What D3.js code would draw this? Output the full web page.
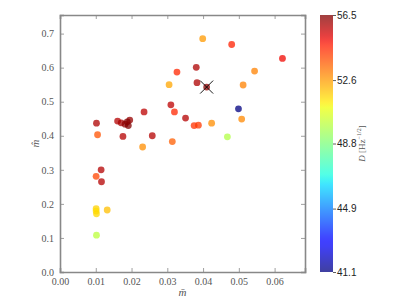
<!DOCTYPE html>
<html>
<head>
<meta charset="utf-8">
<script src="https://cdn.jsdelivr.net/npm/d3@7"></script>
<style>
  body { margin: 0; background: #fff; }
  svg { display: block; }
</style>
</head>
<body>
<div id="chart"></div>
<script>
// m-bar (x), m-hat (y), D in Hz^-1/2 (colour)
const mBar = [0.0102, 0.0105, 0.0161, 0.0171, 0.0182, 0.0191, 0.0195, 0.0188, 0.0176, 0.0235,
              0.0258, 0.0231, 0.0305, 0.0327, 0.0310, 0.0320, 0.0351, 0.0375, 0.0387, 0.0314,
              0.0381, 0.0383, 0.0399, 0.0480, 0.0622, 0.0544, 0.0512, 0.0410, 0.0499, 0.0508,
              0.0424, 0.0468, 0.0115, 0.0101, 0.0116, 0.0101, 0.0101, 0.0102, 0.0132, 0.0102];
const mHat = [0.437, 0.403, 0.443, 0.438, 0.434, 0.430, 0.446, 0.441, 0.398, 0.470,
              0.400, 0.367, 0.550, 0.587, 0.491, 0.470, 0.452, 0.430, 0.431, 0.383,
              0.601, 0.556, 0.685, 0.668, 0.627, 0.590, 0.549, 0.543, 0.479, 0.449,
              0.437, 0.397, 0.300, 0.281, 0.265, 0.186, 0.179, 0.171, 0.182, 0.108];
const dVal = [55.9, 53.8, 55.8, 56.0, 56.3, 56.5, 56.2, 56.4, 55.8, 55.7,
              55.8, 52.8, 52.4, 54.5, 55.7, 54.5, 55.8, 54.3, 54.2, 53.6,
              55.9, 55.9, 52.6, 54.6, 55.0, 53.0, 53.0, 56.3, 41.1, 52.9,
              52.8, 49.8, 55.8, 54.0, 55.8, 51.7, 51.5, 51.6, 52.0, 50.0];
const marked = [0.0410, 0.543];

const xTicks = [0, 0.01, 0.02, 0.03, 0.04, 0.05, 0.06];
const yTicks = [0, 0.1, 0.2, 0.3, 0.4, 0.5, 0.6, 0.7];
const cTicks = [41.1, 44.9, 48.8, 52.6, 56.5];

const W = 407, H = 303;
const plot = { left: 60, right: 305, top: 15, bottom: 272 };
const bar = { left: 320, right: 333 };

// matplotlib "jet"
function jet(t){
  const seg = (pts) => {
    for (let i = 1; i < pts.length; i++){
      if (t <= pts[i][0]){
        const [x0, y0] = pts[i-1], [x1, y1] = pts[i];
        return y0 + (y1 - y0) * (t - x0) / (x1 - x0);
      }
    }
    return pts[pts.length-1][1];
  };
  const r = seg([[0,0],[0.35,0],[0.66,1],[0.89,1],[1,0.5]]);
  const g = seg([[0,0],[0.125,0],[0.375,1],[0.64,1],[0.91,0],[1,0]]);
  const b = seg([[0,0.5],[0.11,1],[0.34,1],[0.65,0],[1,0]]);
  return d3.rgb(r*255, g*255, b*255).formatHex();
}

const x = d3.scaleLinear().domain([0, 0.0685]).range([plot.left, plot.right]);
const y = d3.scaleLinear().domain([0, 0.7546]).range([plot.bottom, plot.top]);
const c = d3.scaleLinear().domain([41.1, 56.5]).range([0, 1]).clamp(true);
const cy = d3.scaleLinear().domain([41.1, 56.5]).range([plot.bottom, plot.top]);

const svg = d3.select("#chart").append("svg").attr("width", W).attr("height", H);
const serif = "'Liberation Serif', 'DejaVu Serif', serif";

// points
const pts = mBar.map((m, i) => ({ x: m, y: mHat[i], d: dVal[i] }));
svg.append("g").selectAll("circle")
  .data(pts)
  .enter()
  .append("circle")
    .attr("cx", d => x(d.x))
    .attr("cy", d => y(d.y))
    .attr("r", 3.4)
    .attr("fill", d => jet(c(d.d)))
    .attr("fill-opacity", 0.75);

// X marker
const mx = x(marked[0]), my = y(marked[1]), s = 6.5;
svg.append("path")
  .attr("d", `M${mx-s},${my-s}L${mx+s},${my+s}M${mx-s},${my+s}L${mx+s},${my-s}`)
  .attr("stroke", "#000").attr("stroke-width", 0.9).attr("fill", "none");

// axes (ticks inward on all four sides)
const spine = "#888";
const axB = svg.append("g").attr("transform", `translate(0,${plot.bottom})`)
  .call(d3.axisBottom(x).tickValues(xTicks).tickSize(-4).tickPadding(6).tickFormat(d3.format(".2f")));
const axT = svg.append("g").attr("transform", `translate(0,${plot.top})`)
  .call(d3.axisTop(x).tickValues(xTicks).tickSize(-4).tickFormat(""));
const axL = svg.append("g").attr("transform", `translate(${plot.left},0)`)
  .call(d3.axisLeft(y).tickValues(yTicks).tickSize(-4).tickPadding(6).tickFormat(d3.format(".1f")));
const axR = svg.append("g").attr("transform", `translate(${plot.right},0)`)
  .call(d3.axisRight(y).tickValues(yTicks).tickSize(-4).tickFormat(""));

[axB, axT, axL, axR].forEach(a => {
  a.select(".domain").attr("stroke", spine).attr("stroke-width", 1.6);
  a.selectAll(".tick line").attr("stroke", spine).attr("stroke-width", 0.8);
  a.selectAll("text").attr("font-family", serif).attr("font-size", 10).attr("fill", "#555");
});

// axis labels
svg.append("text")
  .attr("x", (plot.left + plot.right) / 2).attr("y", 296)
  .attr("text-anchor", "middle")
  .attr("font-family", serif).attr("font-style", "italic").attr("font-size", 11).attr("fill", "#555")
  .text("m\u0304");
svg.append("text")
  .attr("transform", `translate(39,${(plot.top + plot.bottom) / 2}) rotate(-90)`)
  .attr("text-anchor", "middle")
  .attr("font-family", serif).attr("font-style", "italic").attr("font-size", 11).attr("fill", "#555")
  .text("m\u0302");

// colorbar
const grad = svg.append("defs").append("linearGradient")
  .attr("id", "jetgrad").attr("x1", 0).attr("y1", 1).attr("x2", 0).attr("y2", 0);
d3.range(0, 1.0001, 0.02).forEach(t => {
  grad.append("stop").attr("offset", t).attr("stop-color", jet(t));
});
svg.append("rect")
  .attr("x", bar.left).attr("y", plot.top)
  .attr("width", bar.right - bar.left).attr("height", plot.bottom - plot.top)
  .attr("fill", "url(#jetgrad)").attr("fill-opacity", 0.75);

const axC = svg.append("g").attr("transform", `translate(${bar.right},0)`)
  .call(d3.axisRight(cy).tickValues(cTicks).tickSize(3).tickPadding(1).tickFormat(d3.format(".1f")));
axC.select(".domain").remove();
axC.selectAll(".tick line").attr("stroke", "#333").attr("stroke-width", 0.8);
axC.selectAll("text").attr("font-family", "'Liberation Sans', Arial, sans-serif").attr("font-size", 10).attr("fill", "#222");

const lab = svg.append("text")
  .attr("transform", `translate(365,${(plot.top + plot.bottom) / 2}) rotate(-90)`)
  .attr("text-anchor", "middle")
  .attr("font-family", serif).attr("font-size", 9).attr("fill", "#555");
lab.append("tspan").attr("font-style", "italic").text("D");
lab.append("tspan").text(" [Hz");
lab.append("tspan").attr("font-size", 6).attr("dy", -4).text("\u22121/2");
lab.append("tspan").attr("dy", 4).text("]");
</script>
</body>
</html>
